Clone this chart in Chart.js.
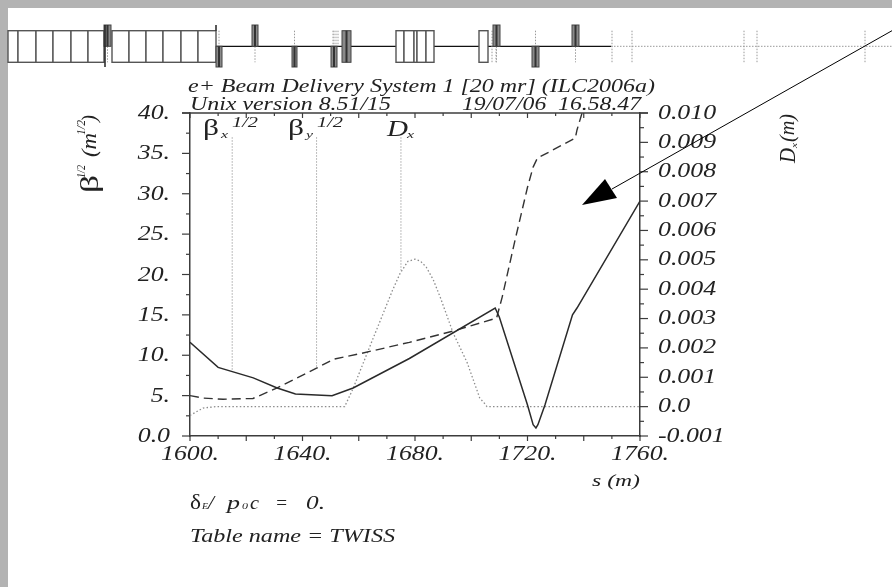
<!DOCTYPE html>
<html><head><meta charset="utf-8">
<script src="https://cdn.jsdelivr.net/npm/chart.js@4"></script>
<style>
html,body{margin:0;padding:0;background:#b3b3b3;width:892px;height:587px;overflow:hidden}
#sheet{position:absolute;left:8px;top:8px;width:884px;height:579px;background:#fff}
canvas{position:absolute;left:0;top:0}
</style></head><body><div id="sheet"></div><canvas id="c" width="892" height="587"></canvas>
<script>
// Curves
const betaXS=[1600,1610,1622.5,1631,1637.5,1650.5,1658,1678,1708.5,1710,1720,1722,1723,1723.7,1726.2,1736,1737.6,1760];
const betaXV=[11.6,8.5,7.2,5.95,5.2,5.0,5.95,9.6,15.85,14.7,3.84,1.4,1.0,1.4,3.84,15,15.85,29.1];
const betaYS=[1600,1604.6,1611.8,1622.4,1631,1645,1651,1660.5,1678,1693.6,1709,1711,1715.6,1720,1722,1723.5,1737,1737.6,1739.4];
const betaYV=[5.0,4.7,4.55,4.65,5.95,8.4,9.5,10.2,11.6,13,14.6,17.2,24.3,30.8,33.3,34.4,36.9,37.9,40];
const dispS=[1600,1604.6,1609,1655,1658,1665,1672,1674.7,1677.5,1680,1682,1684,1686.5,1689,1693.6,1698.5,1703,1704.8,1705.6,1760];
const dispV=[-0.0003,-0.00005,0,0,0.00062,0.0023,0.00396,0.00454,0.00495,0.00502,0.00495,0.00475,0.00432,0.00372,0.0025,0.00151,0.0003,0.0001,0,0];
const legendS=[1615,1645,1675];
const legendTop=37;
const legendBottom=[8.1,8.4,20.5];
// Beamline lattice strip
const bendEdges=[8,18,36,53,71,88,104,112,129,146,163,181,198,216,396,404,414,417,426,434,479,488];
const quadsUp=[[104,111],[252,258],[493,500],[572,579]];
const quadsDown=[[216,222],[292,297],[331,337],[532,539]];
const wideQuad=[342,351];
const markers=[612,632,744,757,865,492,496];
const markersUpper=[333,336,338];
const arrowLine=[[892,30.7],[612,189]];
const arrowHead=[[582,205],[605,179],[617,198]];
const axisColor='#3c3c3c';
const ink='#222';
function series(xs,ys){return xs.map((x,i)=>({x,y:ys[i]}));}
const SERIF='"Liberation Serif"';
const canvas=document.getElementById('c');
function label(ctx,str,x,y,font,w,rot){
  ctx.save();ctx.font=font;ctx.fillStyle=ink;ctx.textAlign='left';ctx.textBaseline='alphabetic';
  const m=ctx.measureText(str).width;ctx.translate(x,y);if(rot)ctx.rotate(rot);if(w)ctx.scale(w/m,1);ctx.fillText(str,0,0);ctx.restore();
}
const TICK=`italic 20px ${SERIF}`, STRETCH=1.29;
function tickWidth(ctx,s){ctx.save();ctx.font=TICK;const w=ctx.measureText(s).width*STRETCH;ctx.restore();return w;}
const deco={id:'deco',
 afterDraw(c){
  const ctx=c.ctx,X=v=>c.scales.latX.getPixelForValue(v),Y=v=>c.scales.latY.getPixelForValue(v);
  const a=c.chartArea;
  ctx.save();
  // ticks and frame
  ctx.strokeStyle=axisColor;ctx.lineWidth=1.5;
  ctx.beginPath();ctx.moveTo(a.left-8,a.top);ctx.lineTo(a.right+8,a.top);ctx.stroke();
  ctx.lineWidth=1.2;
  c.scales.x.ticks.forEach(t=>{const p=c.scales.x.getPixelForValue(t.value),maj=t.value%20===0;
    ctx.beginPath();ctx.moveTo(p,a.bottom);ctx.lineTo(p,a.bottom+(maj?5:3));ctx.moveTo(p,a.top);ctx.lineTo(p,a.top+(maj?5:3));ctx.stroke();
    if(t.label){const w=tickWidth(ctx,t.label);label(ctx,t.label,p-w/2,460,TICK,w);}});
  c.scales.y.ticks.forEach(t=>{const p=c.scales.y.getPixelForValue(t.value),maj=t.value%5===0;
    ctx.beginPath();ctx.moveTo(a.left,p);ctx.lineTo(a.left-(maj?8:4),p);ctx.stroke();
    if(t.label){const w=tickWidth(ctx,t.label);label(ctx,t.label,170-w,p+6,TICK,w);}});
  c.scales.y1.ticks.forEach(t=>{const p=c.scales.y1.getPixelForValue(t.value),k=t.value/0.001,maj=Math.abs(k-Math.round(k))<1e-6;
    ctx.beginPath();ctx.moveTo(a.right,p);ctx.lineTo(a.right+(maj?8:4),p);ctx.stroke();
    if(t.label){const w=tickWidth(ctx,t.label);label(ctx,t.label,658,p+5.5,TICK,w);}});
  // lattice
  const axisY=46.3,top=30.7,bot=62.3,upper=25,lower=67;
  ctx.strokeStyle='#111';ctx.lineWidth=1.3;
  ctx.beginPath();ctx.moveTo(X(216),Y(axisY));ctx.lineTo(X(611),Y(axisY));ctx.stroke();
  ctx.fillStyle='#fff';ctx.strokeStyle='#555';ctx.lineWidth=1.4;
  for(let i=0;i<bendEdges.length-1;i++){
    const l=bendEdges[i],r=bendEdges[i+1];
    if((l===104)||(r-l>30))continue;
    ctx.fillRect(X(l),Y(top),X(r)-X(l),Y(bot)-Y(top));ctx.strokeRect(X(l),Y(top),X(r)-X(l),Y(bot)-Y(top));
  }
  ctx.strokeStyle='#999';ctx.lineWidth=1;ctx.setLineDash([1.5,1.5]);
  markers.forEach(m=>{ctx.beginPath();ctx.moveTo(X(m),Y(top));ctx.lineTo(X(m),Y(bot));ctx.stroke();});
  markersUpper.forEach(m=>{ctx.beginPath();ctx.moveTo(X(m),Y(top));ctx.lineTo(X(m),Y(axisY));ctx.stroke();});
  const qc=q=>(q[0]+q[1])/2;
  quadsUp.forEach(q=>{ctx.beginPath();ctx.moveTo(X(qc(q)),Y(axisY));ctx.lineTo(X(qc(q)),Y(bot));ctx.stroke();});
  quadsDown.forEach(q=>{ctx.beginPath();ctx.moveTo(X(qc(q)),Y(top));ctx.lineTo(X(qc(q)),Y(axisY));ctx.stroke();});
  ctx.beginPath();ctx.moveTo(X(611),Y(axisY));ctx.lineTo(X(892),Y(axisY));ctx.stroke();
  ctx.setLineDash([]);
  const quad=(q,y0,y1)=>{
    ctx.fillStyle='#8a8a8a';ctx.strokeStyle='#444';ctx.lineWidth=1;
    ctx.fillRect(X(q[0]),Y(y0),X(q[1])-X(q[0]),Y(y1)-Y(y0));ctx.strokeRect(X(q[0]),Y(y0),X(q[1])-X(q[0]),Y(y1)-Y(y0));
    ctx.fillStyle='#333';ctx.fillRect(X(qc(q))-1,Y(y0),2,Y(y1)-Y(y0));
  };
  quadsUp.forEach(q=>quad(q,upper,axisY));
  quadsDown.forEach(q=>quad(q,axisY,lower));
  quad(wideQuad,top,bot);
  ctx.strokeStyle='#222';ctx.lineWidth=1.5;
  [[105,upper,lower],[216,upper,top]].forEach(v=>{ctx.beginPath();ctx.moveTo(X(v[0]),Y(v[1]));ctx.lineTo(X(v[0]),Y(v[2]));ctx.stroke();});
  // arrow
  ctx.strokeStyle='#000';ctx.lineWidth=1;
  ctx.beginPath();ctx.moveTo(X(arrowLine[0][0]),Y(arrowLine[0][1]));ctx.lineTo(X(arrowLine[1][0]),Y(arrowLine[1][1]));ctx.stroke();
  ctx.fillStyle='#000';ctx.beginPath();
  arrowHead.forEach((p,i)=>i?ctx.lineTo(X(p[0]),Y(p[1])):ctx.moveTo(X(p[0]),Y(p[1])));
  ctx.closePath();ctx.fill();
  ctx.restore();
  // text
  const it=s=>`italic ${s}px ${SERIF}`;
  const up=-Math.PI/2;
  label(ctx,'e+ Beam Delivery System 1 [20 mr] (ILC2006a)',188,92,it(18),467);
  label(ctx,'Unix version 8.51/15',190,110,it(18),201);
  label(ctx,'19/07/06  16.58.47',462,110,it(18),179);
  // legend
  [[203,'x'],[288,'y']].forEach(l=>{
    label(ctx,'β',l[0],135,`24px ${SERIF}`,16);
    label(ctx,l[1],l[0]+18,138,it(11),7);
    label(ctx,'1/2',l[0]+29,127,it(14),26);
  });
  label(ctx,'D',387,136,it(24),21);
  label(ctx,'x',407,138,it(11),7);
  // axis titles
  label(ctx,'β',98,193,`25px ${SERIF}`,18,up);
  label(ctx,'1/2',85,178,it(12),13,up);
  label(ctx,'(m',96,157,it(20),24,up);
  label(ctx,'1/2',85,135,it(12),15,up);
  label(ctx,')',96,122,it(20),7,up);
  label(ctx,'D',795,163,it(24),15,up);
  label(ctx,'x',797,148,it(9),5,up);
  label(ctx,'(m)',794,142,it(21),28,up);
  label(ctx,'s (m)',592,486,it(16),48);
  label(ctx,'δ',190,509,`20px ${SERIF}`,11);
  label(ctx,'E',202,509,it(9),6);
  label(ctx,'/',208,509,it(18),6);
  label(ctx,'p',227,509,it(19),13);
  label(ctx,'0',242,509,it(9),6);
  label(ctx,'c',250,509,it(19),9);
  label(ctx,'=',275,509,it(18),13);
  label(ctx,'0.',306,509,it(18),19);
  label(ctx,'Table name = TWISS',190,541.5,it(18),205);
 }};
new Chart(canvas,{
 type:'line',
 plugins:[deco],
 data:{datasets:[
  {label:'betaX',data:series(betaXS,betaXV),yAxisID:'y',borderColor:'#2a2a2a',borderWidth:1.5,pointRadius:0,tension:0},
  {label:'betaY',data:series(betaYS,betaYV),yAxisID:'y',borderColor:'#333',borderWidth:1.4,borderDash:[9,5],pointRadius:0,tension:0},
  {label:'Dx',data:series(dispS,dispV),yAxisID:'y1',borderColor:'#8c8c8c',borderWidth:1.3,borderDash:[1.5,2.2],pointRadius:0,tension:0},
  ...legendS.map((s,i)=>({label:'key'+i,data:[{x:s,y:legendTop},{x:s,y:legendBottom[i]}],yAxisID:'y',borderColor:'#a8a8a8',borderWidth:1,borderDash:[1.5,1.5],pointRadius:0}))
 ]},
 options:{
  responsive:false,animation:false,devicePixelRatio:1,
  layout:{padding:{top:113,left:0,right:0,bottom:0}},
  plugins:{legend:{display:false},title:{display:false},tooltip:{enabled:false}},
  scales:{
   x:{type:'linear',position:'bottom',min:1600,max:1760,afterFit:s=>{s.height=151;},
     grid:{display:false},border:{display:true,color:axisColor,width:1.5},
     ticks:{stepSize:10,autoSkip:false,display:false,maxRotation:0,
       callback:v=>v%40===0?v+'.':''}},
   y:{type:'linear',position:'left',min:0,max:40,afterFit:s=>{s.width=190;},
     grid:{display:false},border:{display:true,color:axisColor,width:1.5},
     ticks:{stepSize:2.5,autoSkip:false,display:false,
       callback:v=>v===0?'0.0':(v%5===0?v+'.':'')}},
   y1:{type:'linear',position:'right',min:-0.001,max:0.010,afterFit:s=>{s.width=252;},
     grid:{display:false},border:{display:true,color:axisColor,width:1.5},
     ticks:{stepSize:0.0005,autoSkip:false,display:false,
       callback:v=>{const k=v/0.001;if(Math.abs(k-Math.round(k))>1e-6)return '';return Math.round(k)===0?'0.0':(Math.round(k)/1000).toFixed(3);}}},
   latX:{axis:'x',type:'linear',display:false,min:190,max:640},
   latY:{axis:'y',type:'linear',display:false,reverse:true,min:113,max:436}
  }
 }
});
</script></body></html>
